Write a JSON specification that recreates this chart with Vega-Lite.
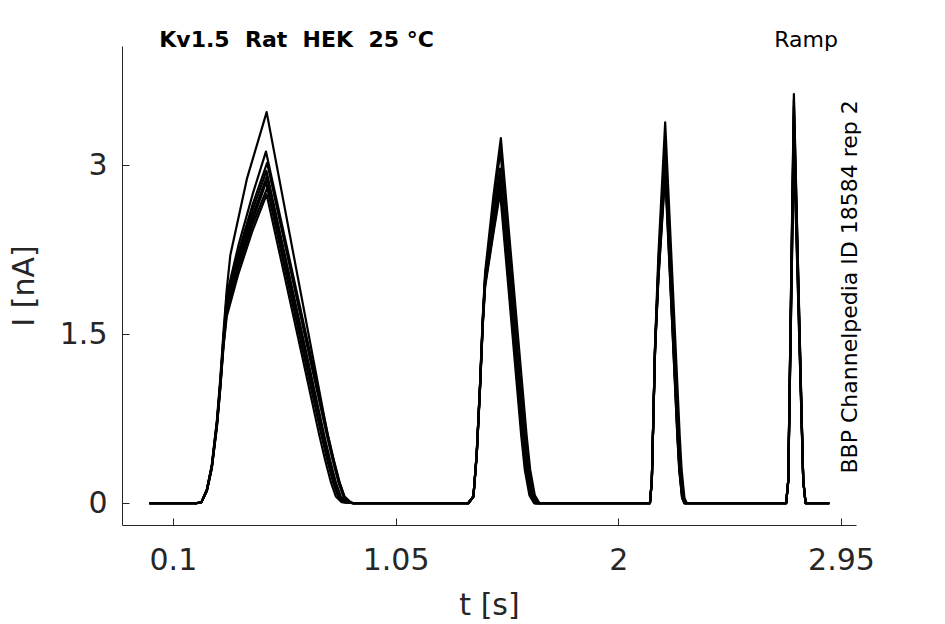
{
"$schema": "https://vega.github.io/schema/vega-lite/v6.json",
"width": 734, "height": 479,
"autosize": {"type": "none"},
"padding": {"left": 122, "top": 46, "right": 89, "bottom": 99},
"background": "white",
"config": {"view": {"stroke": null}, "font": "DejaVu Sans"},
"datasets": {"traces": [
{"s":"A","t":0,"I":0},{"s":"A","t":0.2,"I":0},{"s":"A","t":0.222,"I":0.01},{"s":"A","t":0.245,"I":0.12},{"s":"A","t":0.266,"I":0.34},{"s":"A","t":0.288,"I":0.74},{"s":"A","t":0.302,"I":1.1},{"s":"A","t":0.316,"I":1.52},{"s":"A","t":0.33,"I":1.9},{"s":"A","t":0.345,"I":2.2},{"s":"A","t":0.416,"I":2.88},{"s":"A","t":0.5,"I":3.47},{"s":"A","t":0.697,"I":1.3},{"s":"A","t":0.761,"I":0.6},{"s":"A","t":0.786,"I":0.38},{"s":"A","t":0.811,"I":0.18},{"s":"A","t":0.831,"I":0.06},{"s":"A","t":0.856,"I":0.01},{"s":"A","t":0.87,"I":0},
{"s":"A","t":1.36,"I":0},{"s":"A","t":1.382,"I":0.06},{"s":"A","t":1.396,"I":0.44},{"s":"A","t":1.41,"I":1.05},{"s":"A","t":1.422,"I":1.66},{"s":"A","t":1.432,"I":2.05},{"s":"A","t":1.467,"I":2.72},{"s":"A","t":1.499,"I":3.24},{"s":"A","t":1.609,"I":0.6},{"s":"A","t":1.624,"I":0.3},{"s":"A","t":1.644,"I":0.07},{"s":"A","t":1.664,"I":0},
{"s":"A","t":2.135,"I":0},{"s":"A","t":2.143,"I":0.2},{"s":"A","t":2.157,"I":1.42},{"s":"A","t":2.171,"I":2.2},{"s":"A","t":2.2,"I":3.38},{"s":"A","t":2.262,"I":0.6},{"s":"A","t":2.27,"I":0.3},{"s":"A","t":2.282,"I":0.05},{"s":"A","t":2.292,"I":0},
{"s":"A","t":2.716,"I":0},{"s":"A","t":2.725,"I":0.2},{"s":"A","t":2.749,"I":3.63},{"s":"A","t":2.789,"I":0.2},{"s":"A","t":2.799,"I":0},{"s":"A","t":2.9,"I":0},

{"s":"B","t":0,"I":0},{"s":"B","t":0.2,"I":0},{"s":"B","t":0.222,"I":0.01},{"s":"B","t":0.245,"I":0.12},{"s":"B","t":0.266,"I":0.33},{"s":"B","t":0.288,"I":0.72},{"s":"B","t":0.302,"I":1.07},{"s":"B","t":0.316,"I":1.48},{"s":"B","t":0.33,"I":1.85},{"s":"B","t":0.38,"I":2.29},{"s":"B","t":0.44,"I":2.74},{"s":"B","t":0.497,"I":3.12},{"s":"B","t":0.689,"I":1.3},{"s":"B","t":0.762,"I":0.6},{"s":"B","t":0.787,"I":0.38},{"s":"B","t":0.812,"I":0.18},{"s":"B","t":0.832,"I":0.06},{"s":"B","t":0.857,"I":0.01},{"s":"B","t":0.87,"I":0},
{"s":"B","t":1.36,"I":0},{"s":"B","t":1.382,"I":0.06},{"s":"B","t":1.396,"I":0.44},{"s":"B","t":1.41,"I":1.04},{"s":"B","t":1.422,"I":1.64},{"s":"B","t":1.432,"I":2.02},{"s":"B","t":1.467,"I":2.62},{"s":"B","t":1.497,"I":3.13},{"s":"B","t":1.602,"I":0.6},{"s":"B","t":1.617,"I":0.3},{"s":"B","t":1.637,"I":0.07},{"s":"B","t":1.657,"I":0},
{"s":"B","t":2.135,"I":0},{"s":"B","t":2.143,"I":0.2},{"s":"B","t":2.157,"I":1.4},{"s":"B","t":2.171,"I":2.12},{"s":"B","t":2.2,"I":3.22},{"s":"B","t":2.258,"I":0.6},{"s":"B","t":2.266,"I":0.3},{"s":"B","t":2.278,"I":0.05},{"s":"B","t":2.288,"I":0},
{"s":"B","t":2.716,"I":0},{"s":"B","t":2.725,"I":0.2},{"s":"B","t":2.749,"I":3.58},{"s":"B","t":2.789,"I":0.2},{"s":"B","t":2.799,"I":0},{"s":"B","t":2.9,"I":0},

{"s":"C","t":0,"I":0},{"s":"C","t":0.2,"I":0},{"s":"C","t":0.222,"I":0.01},{"s":"C","t":0.245,"I":0.11},{"s":"C","t":0.266,"I":0.32},{"s":"C","t":0.288,"I":0.71},{"s":"C","t":0.302,"I":1.06},{"s":"C","t":0.316,"I":1.46},{"s":"C","t":0.33,"I":1.8},{"s":"C","t":0.38,"I":2.23},{"s":"C","t":0.44,"I":2.65},{"s":"C","t":0.502,"I":3.02},{"s":"C","t":0.683,"I":1.3},{"s":"C","t":0.757,"I":0.6},{"s":"C","t":0.782,"I":0.38},{"s":"C","t":0.807,"I":0.18},{"s":"C","t":0.827,"I":0.06},{"s":"C","t":0.852,"I":0.01},{"s":"C","t":0.87,"I":0},
{"s":"C","t":1.36,"I":0},{"s":"C","t":1.382,"I":0.06},{"s":"C","t":1.396,"I":0.43},{"s":"C","t":1.41,"I":1.03},{"s":"C","t":1.422,"I":1.62},{"s":"C","t":1.432,"I":2.0},{"s":"C","t":1.467,"I":2.53},{"s":"C","t":1.496,"I":2.97},{"s":"C","t":1.595,"I":0.6},{"s":"C","t":1.61,"I":0.3},{"s":"C","t":1.63,"I":0.07},{"s":"C","t":1.65,"I":0},
{"s":"C","t":2.135,"I":0},{"s":"C","t":2.143,"I":0.2},{"s":"C","t":2.157,"I":1.39},{"s":"C","t":2.171,"I":2.08},{"s":"C","t":2.2,"I":3.15},{"s":"C","t":2.257,"I":0.6},{"s":"C","t":2.265,"I":0.3},{"s":"C","t":2.277,"I":0.05},{"s":"C","t":2.287,"I":0},
{"s":"C","t":2.716,"I":0},{"s":"C","t":2.725,"I":0.2},{"s":"C","t":2.749,"I":3.52},{"s":"C","t":2.789,"I":0.2},{"s":"C","t":2.799,"I":0},{"s":"C","t":2.9,"I":0},

{"s":"D","t":0,"I":0},{"s":"D","t":0.2,"I":0},{"s":"D","t":0.222,"I":0.01},{"s":"D","t":0.245,"I":0.12},{"s":"D","t":0.266,"I":0.33},{"s":"D","t":0.288,"I":0.72},{"s":"D","t":0.302,"I":1.06},{"s":"D","t":0.316,"I":1.45},{"s":"D","t":0.33,"I":1.78},{"s":"D","t":0.38,"I":2.19},{"s":"D","t":0.44,"I":2.6},{"s":"D","t":0.499,"I":2.95},{"s":"D","t":0.673,"I":1.3},{"s":"D","t":0.746,"I":0.6},{"s":"D","t":0.771,"I":0.38},{"s":"D","t":0.796,"I":0.18},{"s":"D","t":0.816,"I":0.06},{"s":"D","t":0.841,"I":0.01},{"s":"D","t":0.87,"I":0},
{"s":"D","t":1.36,"I":0},{"s":"D","t":1.382,"I":0.06},{"s":"D","t":1.396,"I":0.44},{"s":"D","t":1.41,"I":1.03},{"s":"D","t":1.422,"I":1.62},{"s":"D","t":1.432,"I":1.98},{"s":"D","t":1.467,"I":2.5},{"s":"D","t":1.497,"I":2.92},{"s":"D","t":1.594,"I":0.6},{"s":"D","t":1.609,"I":0.3},{"s":"D","t":1.629,"I":0.07},{"s":"D","t":1.649,"I":0},
{"s":"D","t":2.135,"I":0},{"s":"D","t":2.143,"I":0.2},{"s":"D","t":2.157,"I":1.39},{"s":"D","t":2.171,"I":2.06},{"s":"D","t":2.2,"I":3.1},{"s":"D","t":2.256,"I":0.6},{"s":"D","t":2.264,"I":0.3},{"s":"D","t":2.276,"I":0.05},{"s":"D","t":2.286,"I":0},
{"s":"D","t":2.716,"I":0},{"s":"D","t":2.725,"I":0.2},{"s":"D","t":2.749,"I":3.45},{"s":"D","t":2.789,"I":0.2},{"s":"D","t":2.799,"I":0},{"s":"D","t":2.9,"I":0},

{"s":"E","t":0,"I":0},{"s":"E","t":0.2,"I":0},{"s":"E","t":0.222,"I":0.01},{"s":"E","t":0.245,"I":0.12},{"s":"E","t":0.266,"I":0.32},{"s":"E","t":0.288,"I":0.7},{"s":"E","t":0.302,"I":1.04},{"s":"E","t":0.316,"I":1.43},{"s":"E","t":0.33,"I":1.74},{"s":"E","t":0.38,"I":2.15},{"s":"E","t":0.44,"I":2.55},{"s":"E","t":0.501,"I":2.9},{"s":"E","t":0.669,"I":1.3},{"s":"E","t":0.743,"I":0.6},{"s":"E","t":0.768,"I":0.38},{"s":"E","t":0.793,"I":0.18},{"s":"E","t":0.813,"I":0.06},{"s":"E","t":0.838,"I":0.01},{"s":"E","t":0.87,"I":0},
{"s":"E","t":1.36,"I":0},{"s":"E","t":1.382,"I":0.06},{"s":"E","t":1.396,"I":0.43},{"s":"E","t":1.41,"I":1.02},{"s":"E","t":1.422,"I":1.61},{"s":"E","t":1.432,"I":1.97},{"s":"E","t":1.467,"I":2.47},{"s":"E","t":1.496,"I":2.87},{"s":"E","t":1.591,"I":0.6},{"s":"E","t":1.606,"I":0.3},{"s":"E","t":1.626,"I":0.07},{"s":"E","t":1.646,"I":0},
{"s":"E","t":2.135,"I":0},{"s":"E","t":2.143,"I":0.2},{"s":"E","t":2.157,"I":1.38},{"s":"E","t":2.171,"I":2.04},{"s":"E","t":2.2,"I":3.05},{"s":"E","t":2.254,"I":0.6},{"s":"E","t":2.262,"I":0.3},{"s":"E","t":2.274,"I":0.05},{"s":"E","t":2.284,"I":0},
{"s":"E","t":2.716,"I":0},{"s":"E","t":2.725,"I":0.2},{"s":"E","t":2.749,"I":3.38},{"s":"E","t":2.789,"I":0.2},{"s":"E","t":2.799,"I":0},{"s":"E","t":2.9,"I":0},

{"s":"F","t":0,"I":0},{"s":"F","t":0.2,"I":0},{"s":"F","t":0.222,"I":0.01},{"s":"F","t":0.245,"I":0.11},{"s":"F","t":0.266,"I":0.32},{"s":"F","t":0.288,"I":0.7},{"s":"F","t":0.302,"I":1.03},{"s":"F","t":0.316,"I":1.42},{"s":"F","t":0.33,"I":1.72},{"s":"F","t":0.38,"I":2.12},{"s":"F","t":0.44,"I":2.51},{"s":"F","t":0.498,"I":2.85},{"s":"F","t":0.661,"I":1.3},{"s":"F","t":0.735,"I":0.6},{"s":"F","t":0.76,"I":0.38},{"s":"F","t":0.785,"I":0.18},{"s":"F","t":0.805,"I":0.06},{"s":"F","t":0.83,"I":0.01},{"s":"F","t":0.87,"I":0},
{"s":"F","t":1.36,"I":0},{"s":"F","t":1.382,"I":0.06},{"s":"F","t":1.396,"I":0.43},{"s":"F","t":1.41,"I":1.02},{"s":"F","t":1.422,"I":1.6},{"s":"F","t":1.432,"I":1.95},{"s":"F","t":1.467,"I":2.44},{"s":"F","t":1.498,"I":2.83},{"s":"F","t":1.591,"I":0.6},{"s":"F","t":1.606,"I":0.3},{"s":"F","t":1.626,"I":0.07},{"s":"F","t":1.646,"I":0},
{"s":"F","t":2.135,"I":0},{"s":"F","t":2.143,"I":0.2},{"s":"F","t":2.157,"I":1.38},{"s":"F","t":2.171,"I":2.02},{"s":"F","t":2.2,"I":3.0},{"s":"F","t":2.253,"I":0.6},{"s":"F","t":2.261,"I":0.3},{"s":"F","t":2.273,"I":0.05},{"s":"F","t":2.283,"I":0},
{"s":"F","t":2.716,"I":0},{"s":"F","t":2.725,"I":0.2},{"s":"F","t":2.749,"I":3.3},{"s":"F","t":2.789,"I":0.2},{"s":"F","t":2.799,"I":0},{"s":"F","t":2.9,"I":0},

{"s":"G","t":0,"I":0},{"s":"G","t":0.2,"I":0},{"s":"G","t":0.222,"I":0.01},{"s":"G","t":0.245,"I":0.11},{"s":"G","t":0.266,"I":0.31},{"s":"G","t":0.288,"I":0.69},{"s":"G","t":0.302,"I":1.02},{"s":"G","t":0.316,"I":1.41},{"s":"G","t":0.33,"I":1.7},{"s":"G","t":0.38,"I":2.09},{"s":"G","t":0.44,"I":2.47},{"s":"G","t":0.503,"I":2.8},{"s":"G","t":0.661,"I":1.3},{"s":"G","t":0.735,"I":0.6},{"s":"G","t":0.76,"I":0.38},{"s":"G","t":0.785,"I":0.18},{"s":"G","t":0.805,"I":0.06},{"s":"G","t":0.83,"I":0.01},{"s":"G","t":0.87,"I":0},
{"s":"G","t":1.36,"I":0},{"s":"G","t":1.382,"I":0.06},{"s":"G","t":1.396,"I":0.42},{"s":"G","t":1.41,"I":1.01},{"s":"G","t":1.422,"I":1.59},{"s":"G","t":1.432,"I":1.94},{"s":"G","t":1.467,"I":2.42},{"s":"G","t":1.497,"I":2.8},{"s":"G","t":1.589,"I":0.6},{"s":"G","t":1.604,"I":0.3},{"s":"G","t":1.624,"I":0.07},{"s":"G","t":1.644,"I":0},
{"s":"G","t":2.135,"I":0},{"s":"G","t":2.143,"I":0.2},{"s":"G","t":2.157,"I":1.37},{"s":"G","t":2.171,"I":2.0},{"s":"G","t":2.2,"I":2.96},{"s":"G","t":2.252,"I":0.6},{"s":"G","t":2.26,"I":0.3},{"s":"G","t":2.272,"I":0.05},{"s":"G","t":2.282,"I":0},
{"s":"G","t":2.716,"I":0},{"s":"G","t":2.725,"I":0.2},{"s":"G","t":2.749,"I":3.22},{"s":"G","t":2.789,"I":0.2},{"s":"G","t":2.799,"I":0},{"s":"G","t":2.9,"I":0},

{"s":"H","t":0,"I":0},{"s":"H","t":0.2,"I":0},{"s":"H","t":0.222,"I":0.01},{"s":"H","t":0.245,"I":0.11},{"s":"H","t":0.266,"I":0.31},{"s":"H","t":0.288,"I":0.68},{"s":"H","t":0.302,"I":1.01},{"s":"H","t":0.316,"I":1.39},{"s":"H","t":0.33,"I":1.66},{"s":"H","t":0.38,"I":2.04},{"s":"H","t":0.44,"I":2.42},{"s":"H","t":0.5,"I":2.74},{"s":"H","t":0.652,"I":1.3},{"s":"H","t":0.725,"I":0.6},{"s":"H","t":0.75,"I":0.38},{"s":"H","t":0.775,"I":0.18},{"s":"H","t":0.795,"I":0.06},{"s":"H","t":0.82,"I":0.01},{"s":"H","t":0.87,"I":0},
{"s":"H","t":1.36,"I":0},{"s":"H","t":1.382,"I":0.06},{"s":"H","t":1.396,"I":0.42},{"s":"H","t":1.41,"I":1.0},{"s":"H","t":1.422,"I":1.58},{"s":"H","t":1.432,"I":1.92},{"s":"H","t":1.467,"I":2.39},{"s":"H","t":1.496,"I":2.76},{"s":"H","t":1.586,"I":0.6},{"s":"H","t":1.601,"I":0.3},{"s":"H","t":1.621,"I":0.07},{"s":"H","t":1.641,"I":0},
{"s":"H","t":2.135,"I":0},{"s":"H","t":2.143,"I":0.2},{"s":"H","t":2.157,"I":1.36},{"s":"H","t":2.171,"I":1.98},{"s":"H","t":2.2,"I":2.92},{"s":"H","t":2.252,"I":0.6},{"s":"H","t":2.26,"I":0.3},{"s":"H","t":2.272,"I":0.05},{"s":"H","t":2.282,"I":0},
{"s":"H","t":2.716,"I":0},{"s":"H","t":2.725,"I":0.2},{"s":"H","t":2.749,"I":3.15},{"s":"H","t":2.789,"I":0.2},{"s":"H","t":2.799,"I":0},{"s":"H","t":2.9,"I":0}
]},
"layer": [
{
"data": {"name": "traces"},
"mark": {"type": "line", "color": "black", "strokeWidth": 2.2, "strokeJoin": "round"},
"encoding": {
"x": {"field": "t", "type": "quantitative",
"scale": {"domain": [-0.117, 3.014], "nice": false, "zero": false},
"axis": {"title": "t [s]", "values": [0.1, 1.05, 2, 2.95], "labelExpr": "datum.value", "grid": false,
"labelFontSize": 30, "labelFont": "DejaVu Sans", "labelColor": "#262626", "labelPadding": 27, "labelFlush": false, "labelOverlap": false,
"titleFontSize": 30, "titleFont": "DejaVu Sans", "titleFontWeight": "normal", "titleColor": "#262626", "titlePadding": 15,
"domainColor": "#262626", "domainWidth": 1, "tickColor": "#262626", "tickSize": -7, "tickWidth": 1}},
"y": {"field": "I", "type": "quantitative",
"scale": {"domain": [-0.193, 4.057], "nice": false, "zero": false},
"axis": {"title": "I [nA]", "values": [0, 1.5, 3], "labelExpr": "datum.value", "grid": false,
"labelFontSize": 30, "labelFont": "DejaVu Sans", "labelColor": "#262626", "labelPadding": 22, "labelFlush": false, "labelOverlap": false,
"titleFontSize": 30, "titleFont": "DejaVu Sans", "titleFontWeight": "normal", "titleColor": "#262626", "titlePadding": 20,
"domainColor": "#262626", "domainWidth": 1, "tickColor": "#262626", "tickSize": -7, "tickWidth": 1}},
"detail": {"field": "s", "type": "nominal"}
}
},
{
"data": {"values": [{"label": "Kv1.5\u00a0\u00a0Rat\u00a0\u00a0HEK\u00a0\u00a025\u00a0°C"}]},
"mark": {"type": "text", "font": "DejaVu Sans", "fontSize": 22, "fontWeight": "bold", "align": "left", "baseline": "alphabetic", "color": "black"},
"encoding": {"text": {"field": "label"}, "x": {"datum": 0.042, "type": "quantitative"}, "y": {"datum": 4.05, "type": "quantitative"}}
},
{
"data": {"values": [{"label": "Ramp"}]},
"mark": {"type": "text", "font": "DejaVu Sans", "fontSize": 22, "align": "right", "baseline": "alphabetic", "color": "black"},
"encoding": {"text": {"field": "label"}, "x": {"datum": 2.937, "type": "quantitative"}, "y": {"datum": 4.05, "type": "quantitative"}}
},
{
"data": {"values": [{"label": "BBP Channelpedia ID 18584 rep 2"}]},
"mark": {"type": "text", "font": "DejaVu Sans", "fontSize": 22, "align": "center", "baseline": "middle", "angle": 270, "color": "black"},
"encoding": {"text": {"field": "label"}, "x": {"datum": 2.99, "type": "quantitative"}, "y": {"datum": 1.92, "type": "quantitative"}}
}
]
}
